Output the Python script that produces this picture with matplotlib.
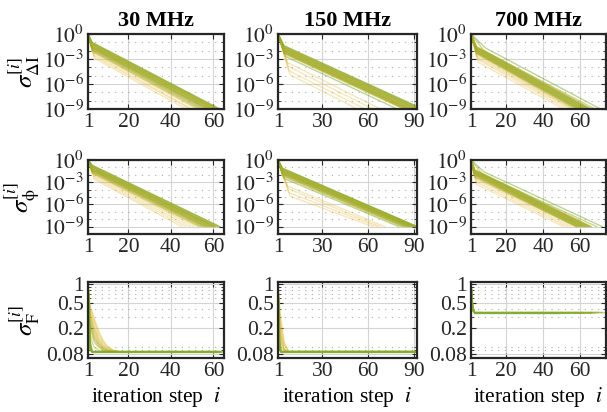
import numpy as np
import matplotlib
matplotlib.use("Agg")
import matplotlib.pyplot as plt
from matplotlib.colors import to_rgb
from matplotlib.ticker import FixedLocator, FixedFormatter, NullFormatter, NullLocator

plt.rcParams["font.family"] = "serif"
plt.rcParams["font.serif"] = ["Liberation Serif", "DejaVu Serif"]
plt.rcParams["mathtext.fontset"] = "stix"
plt.rcParams["axes.unicode_minus"] = False

# ---- data ----
bands = ["30 MHz", "150 MHz", "700 MHz"]
x_max = [65, 92, 74]
x_ticks = [[1, 20, 40, 60], [1, 30, 60, 90], [1, 20, 40, 60]]

# sigma_dI: each run = (knee step, log10 value at knee, step where 1e-9 is reached)
dI30_knee_step = [3] * 20 + [4] * 4
dI30_knee = [-1.0, -1.05, -1.1, -1.15, -1.2, -1.25, -1.3, -1.35, -1.4, -1.45,
             -1.5, -1.55, -1.6, -1.65, -1.7, -1.75, -1.8, -1.9, -2.0, -2.1,
             -2.3, -2.5, -2.7, -2.9]
dI30_end = [63, 63, 62, 62, 62, 61, 61, 60, 60, 60, 59, 59, 58, 58, 57, 57,
            56, 55, 54, 53, 52, 50, 49, 47]

dI150_knee_step = [5] * 20 + [6, 7, 8, 8, 9]
dI150_knee = [-1.4, -1.45, -1.5, -1.55, -1.6, -1.65, -1.7, -1.75, -1.8, -1.85,
              -1.9, -1.95, -2.0, -2.05, -2.1, -2.15, -2.2, -2.25, -2.3, -2.4,
              -2.7, -3.4, -3.9, -4.4, -4.9]
dI150_end = [96, 95, 95, 94, 93, 93, 92, 91, 91, 90, 89, 89, 88, 87, 87, 86,
             85, 85, 84, 83, 79, 68, 63, 58, 53]

dI700_knee_step = [9, 8] + [4] * 20 + [5, 5]
dI700_knee = [-1.7, -2.0, -1.5, -1.55, -1.6, -1.65, -1.7, -1.75, -1.8, -1.85,
              -1.9, -1.95, -2.0, -2.05, -2.1, -2.15, -2.2, -2.25, -2.3, -2.4,
              -2.6, -2.8, -3.1, -3.4]
dI700_end = [71, 68, 66, 66, 65, 65, 64, 64, 63, 63, 62, 62, 61, 61, 60, 60,
             59, 59, 58, 57, 56, 55, 53, 51]

# sigma_phi: same description, runs stop once 1e-9 is reached
ph30_knee_step = [3] * 20 + [4] * 4
ph30_knee = [-0.7, -0.75, -0.8, -0.85, -0.9, -0.95, -1.0, -1.05, -1.1, -1.15,
             -1.2, -1.25, -1.3, -1.35, -1.4, -1.45, -1.5, -1.6, -1.7, -1.8,
             -2.0, -2.2, -2.4, -2.6]
ph30_end = [63, 63, 62, 62, 61, 61, 60, 60, 60, 59, 59, 58, 58, 57, 57, 56,
            56, 55, 54, 53, 51, 49, 47, 45]

ph150_knee_step = [4] * 20 + [5, 7, 8, 8, 9]
ph150_knee = [-1.1, -1.15, -1.2, -1.25, -1.3, -1.35, -1.4, -1.45, -1.5, -1.55,
              -1.6, -1.65, -1.7, -1.75, -1.8, -1.85, -1.9, -2.0, -2.1, -2.2,
              -2.5, -3.5, -3.9, -4.4, -4.9]
ph150_end = [92, 92, 92, 91, 91, 90, 90, 90, 89, 89, 88, 88, 87, 87, 86, 86,
             85, 84, 83, 82, 80, 71, 68, 66, 63]

ph700_knee_step = [8, 7] + [3] * 19 + [4, 4, 4]
ph700_knee = [-1.6, -1.9, -1.3, -1.35, -1.4, -1.45, -1.5, -1.55, -1.6, -1.65,
              -1.7, -1.75, -1.8, -1.85, -1.9, -1.95, -2.0, -2.1, -2.2, -2.3,
              -2.4, -2.7, -3.0, -3.3]
ph700_end = [72, 69, 66, 66, 65, 65, 64, 64, 63, 63, 62, 62, 61, 61, 60, 60,
             59, 59, 58, 58, 57, 55, 53, 51]

# sigma_F: full curves at a few steps, then a flat tail up to the last step
F30_steps = [1, 2, 3, 4, 6, 8, 10, 13, 16]
F30_slow = [
    [1.0, 0.42, 0.36, 0.28, 0.18, 0.13, 0.105, 0.090, 0.086],
    [1.0, 0.40, 0.32, 0.25, 0.16, 0.12, 0.100, 0.088, 0.085],
    [1.0, 0.36, 0.28, 0.21, 0.14, 0.11, 0.095, 0.088, 0.085],
    [1.0, 0.33, 0.25, 0.19, 0.13, 0.105, 0.092, 0.087, 0.085],
    [1.0, 0.31, 0.23, 0.17, 0.12, 0.10, 0.090, 0.086, 0.085],
    [1.0, 0.28, 0.20, 0.15, 0.115, 0.097, 0.089, 0.085, 0.085],
    [1.0, 0.26, 0.19, 0.14, 0.11, 0.095, 0.088, 0.085, 0.085],
    [1.0, 0.23, 0.17, 0.13, 0.105, 0.092, 0.087, 0.085, 0.085],
    [1.0, 0.21, 0.15, 0.12, 0.10, 0.090, 0.086, 0.085, 0.085],
    [1.0, 0.16, 0.12, 0.10, 0.09, 0.086, 0.085, 0.085, 0.085],
]
F30_fast = [0.09, 0.10, 0.11, 0.12, 0.095, 0.10, 0.13, 0.09, 0.11, 0.10]
F30_level = [0.085, 0.084, 0.086, 0.085, 0.083, 0.086, 0.085, 0.084, 0.085, 0.086]
F30_end = [64, 63, 63, 62, 62, 61, 63, 64, 62, 63]

F150_steps = [1, 2, 3, 5, 8]
F150_slow = [
    [1.0, 0.45, 0.26, 0.12, 0.087],
    [1.0, 0.38, 0.21, 0.11, 0.086],
    [1.0, 0.30, 0.16, 0.095, 0.085],
    [1.0, 0.25, 0.14, 0.092, 0.085],
    [1.0, 0.22, 0.12, 0.09, 0.085],
    [1.0, 0.16, 0.10, 0.087, 0.085],
]
F150_fast = [0.09, 0.10, 0.12, 0.095, 0.11, 0.09, 0.14, 0.10, 0.12, 0.09]
F150_level = [0.085, 0.084, 0.086, 0.085, 0.083, 0.086, 0.085, 0.084, 0.085, 0.086]
F150_end = [92, 91, 90, 92, 89, 90, 91, 92, 90, 91]

F700_drop = [0.40, 0.38, 0.42, 0.37, 0.39, 0.41, 0.38, 0.40, 0.39, 0.43]
F700_level = [0.350, 0.345, 0.355, 0.350, 0.340, 0.352, 0.347, 0.356, 0.349, 0.353]
F700_end = [66, 68, 70, 74, 49, 55, 62, 72, 66, 60]

# ---- styling ----
yellow = np.array(to_rgb("#EDB120"))
green = np.array(to_rgb("#77AC30"))
axis_col = "#262626"


def run_colour(frac):
    """frac 0 -> green, 1 -> yellow"""
    return tuple(green * (1 - frac) + yellow * frac)


def draw_linear(ax, knee_step, knee, end):
    n = len(knee)
    for i in reversed(range(n)):
        outlier = i >= n - 4
        frac = 0.9 if outlier else (i % 4) / 3 * 0.8
        ax.plot([1, knee_step[i], end[i]], [1.0, 10.0 ** knee[i], 1e-9],
                color=run_colour(frac), alpha=0.3 if outlier else 0.5, lw=1.0)


def draw_F(ax, steps, slow, fast, level, end):
    for j, curve in enumerate(slow):
        xs = list(steps) + [end[j % len(end)]]
        ys = list(curve) + [curve[-1]]
        ax.plot(xs, ys, color=run_colour(0.95 - 0.07 * j), alpha=0.45, lw=1.0)
    for j in range(len(fast)):
        ax.plot([1, 2, 3, end[j]], [1.0, fast[j], level[j], level[j]],
                color=run_colour(0.15 * (j % 3)), alpha=0.6, lw=1.0)


def style(ax, col, row):
    ax.set_xlim(1, x_max[col])
    ax.set_yscale("log")
    ax.xaxis.set_major_locator(FixedLocator(x_ticks[col]))
    ax.xaxis.set_minor_locator(NullLocator())
    if row < 2:
        if row == 0:
            ax.set_ylim(1e-9, 1)
        else:
            ax.set_ylim(1e-10, 1)
        ax.yaxis.set_major_locator(FixedLocator([1e-9, 1e-6, 1e-3, 1]))
        ax.yaxis.set_major_formatter(FixedFormatter(
            [r"$10^{-9}$", r"$10^{-6}$", r"$10^{-3}$", r"$10^{0}$"]))
        ax.yaxis.set_minor_locator(FixedLocator(
            [1e-10, 1e-8, 1e-7, 1e-5, 1e-4, 1e-2, 1e-1]))
    else:
        ax.set_ylim(0.068, 1.07)
        ax.yaxis.set_major_locator(FixedLocator([0.08, 0.2, 0.5, 1]))
        ax.yaxis.set_major_formatter(FixedFormatter(["0.08", "0.2", "0.5", "1"]))
        ax.yaxis.set_minor_locator(FixedLocator(
            [0.07, 0.09, 0.1, 0.3, 0.4, 0.6, 0.7, 0.8, 0.9]))
    ax.yaxis.set_minor_formatter(NullFormatter())
    ax.grid(True, which="major", color="#d4d4d4", lw=0.8, ls="-")
    ax.grid(True, which="minor", axis="y", color="#aaaaaa", lw=0.8, ls=(0, (1, 5)))
    ax.set_axisbelow(True)
    for s in ax.spines.values():
        s.set_color(axis_col)
        s.set_linewidth(1.6)
    ax.tick_params(which="both", direction="in", top=True, right=True,
                   colors=axis_col, labelsize=15.5, pad=3)
    ax.tick_params(which="major", length=3.5, width=0.8)
    ax.tick_params(which="minor", length=2, width=0.6)


fig = plt.figure(figsize=(6.07, 4.12), dpi=100)
lefts = [88 / 607, 278 / 607, 471 / 607]
widths = [136 / 607, 139 / 607, 135 / 607]
bottoms = [1 - 109 / 412, 1 - 234 / 412, 1 - 358 / 412]
heights = [75 / 412, 74 / 412, 76 / 412]

dI_runs = [(dI30_knee_step, dI30_knee, dI30_end),
           (dI150_knee_step, dI150_knee, dI150_end),
           (dI700_knee_step, dI700_knee, dI700_end)]
ph_runs = [(ph30_knee_step, ph30_knee, ph30_end),
           (ph150_knee_step, ph150_knee, ph150_end),
           (ph700_knee_step, ph700_knee, ph700_end)]
ylabels = [r"$\sigma^{[i]}_{\Delta\mathrm{I}}$", r"$\sigma^{[i]}_{\mathrm{\phi}}$",
           r"$\sigma^{[i]}_{\mathrm{F}}$"]

for col in range(3):
    for row in range(3):
        ax = fig.add_axes([lefts[col], bottoms[row], widths[col], heights[row]])
        if row == 0:
            draw_linear(ax, *dI_runs[col])
            ax.set_title(bands[col], fontsize=16, fontweight="bold", pad=6)
        elif row == 1:
            draw_linear(ax, *ph_runs[col])
        else:
            if col == 0:
                draw_F(ax, F30_steps, F30_slow, F30_fast, F30_level, F30_end)
            elif col == 1:
                draw_F(ax, F150_steps, F150_slow, F150_fast, F150_level, F150_end)
            else:
                for j in range(len(F700_drop)):
                    ax.plot([1, 2, 3, F700_end[j]],
                            [1.0, F700_drop[j], F700_level[j], F700_level[j]],
                            color=run_colour(0.1 * (j % 4)), alpha=0.55, lw=1.0)
            ax.set_xlabel(r"iteration step  $i$", fontsize=15.5, labelpad=3)
        style(ax, col, row)
        if col == 0:
            ax.set_ylabel(ylabels[row], fontsize=18)
            ax.yaxis.set_label_coords(-0.34, 0.5)

fig.savefig("out.png", dpi=100)
